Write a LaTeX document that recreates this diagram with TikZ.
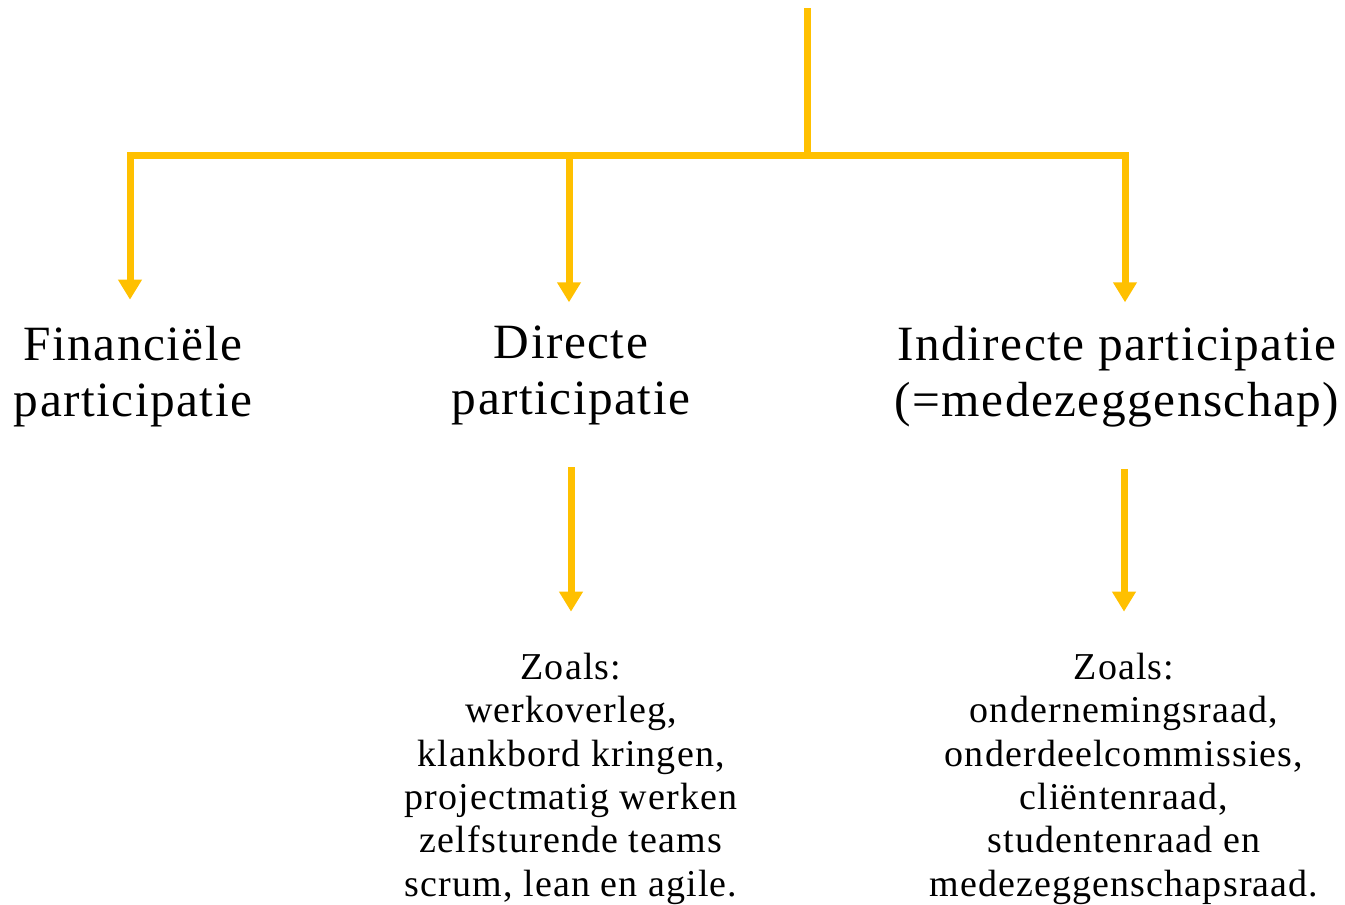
\documentclass[tikz,border=0pt]{standalone}
\usepackage{fontspec}
\setmainfont{Liberation Serif}[LetterSpace=3]
\usetikzlibrary{arrows.meta}
\definecolor{gold}{HTML}{FFC000}
\tikzset{
  conn/.style={draw=gold, line width=5.25pt, -{Triangle[width=17pt,length=15pt]}},
  bar/.style={draw=gold, line width=5.25pt},
  head/.style={inner sep=0pt, align=center, font=\fontsize{37pt}{42pt}\selectfont},
  expl/.style={inner sep=0pt, align=center, font=\fontsize{28.5pt}{32.5pt}\selectfont},
}
\begin{document}
\begin{tikzpicture}[x=0.75pt,y=-0.75pt]
\useasboundingbox (0,0) rectangle (1345,904);
\coordinate (top) at (807,8);
\coordinate (j) at (807,155);
\node[head, anchor=north] (fin) at (133,326) {Financiële\\participatie};
\node[head, anchor=north] (dir) at (571,326) {Directe\\participatie};
\node[head, anchor=north] (ind) at (1117,326) {Indirecte participatie\\(=medezeggenschap)};
\node[expl, anchor=north] (dirx) at (571,653) {Zoals:\\werkoverleg,\\klankbord kringen,\\projectmatig werken\\zelfsturende teams\\scrum, lean en agile.};
\node[expl, anchor=north] (indx) at (1124,653) {Zoals:\\ondernemingsraad,\\onderdeelcommissies,\\cliëntenraad,\\studentenraad en\\medezeggenschapsraad.};
\draw[bar] (top) -- (j);
\draw[conn, shorten >=19.75pt] (j) -| ([xshift=-2.25pt]fin.north);
\draw[conn, shorten >=17.75pt] (j) -| ([xshift=-1.5pt]dir.north);
\draw[conn, shorten >=17.75pt] (j) -| ([xshift=6pt]ind.north);
\draw[conn, shorten <=31pt, shorten >=31pt] (dir.south) -- (dirx.north);
\draw[conn, shorten <=31pt, shorten >=31pt] (ind.south -| indx.north) -- (indx.north);
\end{tikzpicture}
\end{document}
